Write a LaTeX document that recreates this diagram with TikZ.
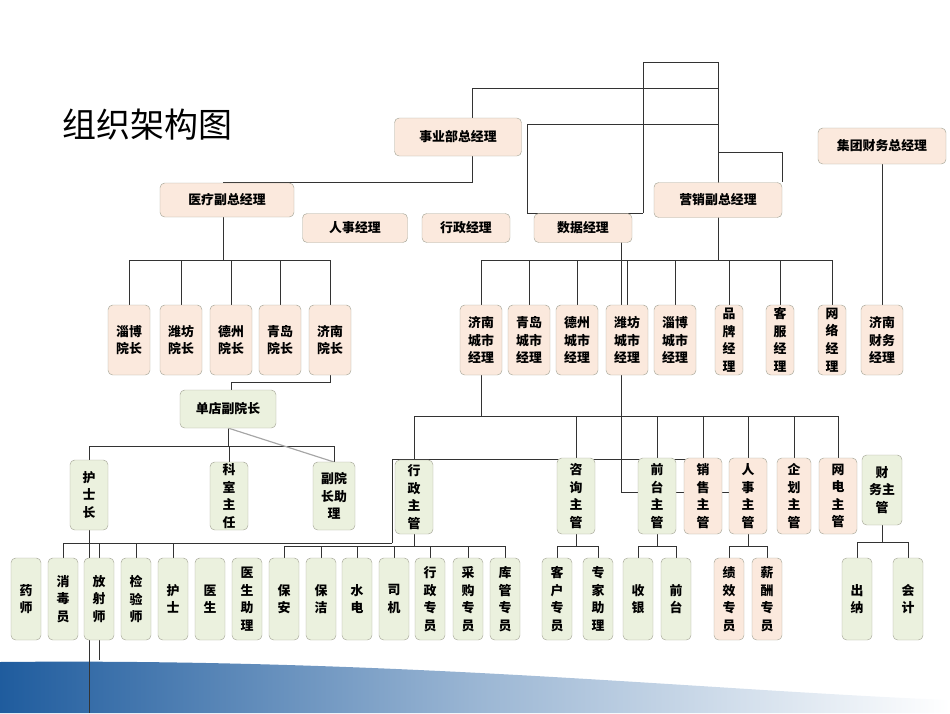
\documentclass[tikz,border=0pt]{standalone}
\usepackage{fontspec}
\setmainfont{Noto Sans CJK SC}
\usetikzlibrary{calc}
\definecolor{pkfill}{HTML}{FBE9DD}
\definecolor{gnfill}{HTML}{EBF1DE}
\definecolor{boxline}{HTML}{A8A89A}
\definecolor{band}{HTML}{1F5C9E}
\tikzset{
  % pink and green boxes of the chart
  pk/.style={rectangle,rounded corners=4,draw=boxline,fill=pkfill,align=center,inner sep=0,
    font=\fontsize{11}{15}\selectfont\bfseries},
  gn/.style={pk,fill=gnfill},
  ln/.style={draw=black!80,line width=0.6pt}
}
\begin{document}
\begin{tikzpicture}[x=0.3mm,y=-0.3mm]
  \useasboundingbox (0,0) rectangle (950,713);
  % bottom band
  \shade[left color=band,right color=white,middle color=band!45] (0,713) -- (0,662) .. controls (400,658) and (700,690) .. (950,700) -- (950,713) -- cycle;
  \node[anchor=west,font=\fontsize{29}{33}\selectfont] (title) at (58,125) {组织架构图};
  % lines
  \draw[ln] (643,213) -- (643,62) -- (718,62) -- (718,260);
  \draw[ln] (472,118) -- (472,88) -- (718,88);
  \draw[ln] (527,213) -- (527,124) -- (718,124);
  \draw[ln] (527,213) -- (643,213);
  \draw[ln] (718,152) -- (782,152) -- (782,182);
  \draw[ln] (472,156) -- (472,182) -- (223,182) -- (223,260);
  \draw[ln] (129,305) -- (129,260) -- (330,260) -- (330,305);
  \foreach \x in {181,231,280} \draw[ln] (\x,260) -- (\x,305);
  \draw[ln] (481,305) -- (481,260) -- (832,260) -- (832,305);
  \foreach \x in {529,577,627,675,729,780} \draw[ln] (\x,260) -- (\x,305);
  \draw[ln] (621,213) -- (621,492) -- (748,492);
  \draw[ln] (882,164) -- (882,305);
  \draw[ln] (330,375) -- (330,382) -- (231,382) -- (231,390);
  \draw[ln] (228,428) -- (228,446);
  \draw[ln] (89,460) -- (89,446) -- (334,446) -- (334,462);
  \draw[ln] (229,446) -- (229,462);
  \draw[black!35,line width=1pt] (228,428) -- (334,462);
  \draw[ln] (481,375) -- (481,416) -- (838,416) -- (838,460);
  \draw[ln] (414,460) -- (414,416) -- (481,416);
  \foreach \x in {576,657,703,748,794} \draw[ln] (\x,416) -- (\x,458);
  \draw[ln] (392,543) -- (392,459) -- (703,459);
  \draw[ln] (63,558) -- (63,543) -- (392,543);
  \foreach \x in {136,173} \draw[ln] (\x,543) -- (\x,558);
  \draw[ln] (89,530) -- (89,713);
  \draw[ln] (99,543) -- (99,660);
  \draw[ln] (414,534) -- (414,546);
  \draw[ln] (284,558) -- (284,546) -- (505,546) -- (505,558);
  \foreach \x in {321,357,394,430,468} \draw[ln] (\x,546) -- (\x,558);
  \draw[ln] (576,534) -- (576,546) (557,558) -- (557,546) -- (598,546) -- (598,558);
  \draw[ln] (657,534) -- (657,546) (638,558) -- (638,546) -- (676,546) -- (676,558);
  \draw[ln] (748,534) -- (748,546) (729,558) -- (729,546) -- (767,546) -- (767,558);
  \draw[ln] (882,525) -- (882,542) (857,558) -- (857,542) -- (908,542) -- (908,558);
  % top managers
  \node[pk,minimum width=127*0.3mm,minimum height=38*0.3mm] (sy) at (458,137) {事业部总经理};
  \node[pk,minimum width=134*0.3mm,minimum height=34*0.3mm] (yl) at (227,200) {医疗副总经理};
  \node[pk,minimum width=105*0.3mm,minimum height=29*0.3mm] (rs) at (355,228) {人事经理};
  \node[pk,minimum width=88*0.3mm,minimum height=29*0.3mm] (xz) at (466,228) {行政经理};
  \node[pk,minimum width=98*0.3mm,minimum height=29*0.3mm] (sj) at (583,228) {数据经理};
  \node[pk,minimum width=128*0.3mm,minimum height=35*0.3mm] (yx) at (718,200) {营销副总经理};
  \node[pk,minimum width=128*0.3mm,minimum height=36*0.3mm] (jt) at (882,146) {集团财务总经理};
  % second row
  \tikzset{r2/.style={pk,minimum width=42*0.3mm,minimum height=70*0.3mm}}
  \node[r2] (zby) at (129,340) {淄博\\院长};
  \node[r2] (wfy) at (181,340) {潍坊\\院长};
  \node[r2] (dzy) at (231,340) {德州\\院长};
  \node[r2] (qdy) at (280,340) {青岛\\院长};
  \node[r2] (jny) at (330,340) {济南\\院长};
  \node[r2] (jnc) at (481,340) {济南\\城市\\经理};
  \node[r2] (qdc) at (529,340) {青岛\\城市\\经理};
  \node[r2] (dzc) at (577,340) {德州\\城市\\经理};
  \node[r2] (wfc) at (627,340) {潍坊\\城市\\经理};
  \node[r2] (zbc) at (675,340) {淄博\\城市\\经理};
  \node[r2,minimum width=28*0.3mm] (pp) at (729,340) {品\\牌\\经\\理};
  \node[r2,minimum width=28*0.3mm] (kf) at (780,340) {客\\服\\经\\理};
  \node[r2,minimum width=28*0.3mm] (wl) at (832,340) {网\\络\\经\\理};
  \node[r2] (jncw) at (882,340) {济南\\财务\\经理};
  \node[gn,minimum width=96*0.3mm,minimum height=38*0.3mm] (dd) at (228,409) {单店副院长};
  % third row
  \tikzset{r3/.style={gn,minimum width=38*0.3mm,minimum height=74*0.3mm}}
  \node[r3,minimum height=70*0.3mm] (hsz) at (89,495) {护\\士\\长};
  \node[r3,minimum height=68*0.3mm] (ks) at (229,496) {科\\室\\主\\任};
  \node[r3,minimum width=42*0.3mm,minimum height=68*0.3mm] (fyz) at (334,496) {副院\\长助\\理};
  \node[r3] (xzz) at (414,497) {行\\政\\主\\管};
  \node[r3,minimum height=76*0.3mm] (zx) at (576,496) {咨\\询\\主\\管};
  \node[r3,minimum height=76*0.3mm] (qt) at (657,496) {前\\台\\主\\管};
  \node[r3,pk,minimum height=76*0.3mm] (xs) at (703,496) {销\\售\\主\\管};
  \node[r3,pk,minimum height=76*0.3mm] (rsz) at (748,496) {人\\事\\主\\管};
  \node[r3,pk,minimum width=34*0.3mm,minimum height=76*0.3mm] (qh) at (794,496) {企\\划\\主\\管};
  \node[r3,pk,minimum height=76*0.3mm] (wd) at (838,496) {网\\电\\主\\管};
  \node[r3,minimum width=40*0.3mm,minimum height=70*0.3mm] (cw) at (882,490) {财\\务主\\管};
  % bottom row
  \tikzset{r4/.style={gn,minimum width=30*0.3mm,minimum height=82*0.3mm}}
  \node[r4] (b1) at (26,599) {药\\师};
  \node[r4] (b2) at (63,599) {消\\毒\\员};
  \node[r4] (b3) at (99,599) {放\\射\\师};
  \node[r4] (b4) at (136,599) {检\\验\\师};
  \node[r4] (b5) at (173,599) {护\\士};
  \node[r4] (b6) at (210,599) {医\\生};
  \node[r4] (b7) at (247,599) {医\\生\\助\\理};
  \node[r4] (b8) at (284,599) {保\\安};
  \node[r4] (b9) at (321,599) {保\\洁};
  \node[r4] (b10) at (357,599) {水\\电};
  \node[r4] (b11) at (394,599) {司\\机};
  \node[r4] (b12) at (430,599) {行\\政\\专\\员};
  \node[r4] (b13) at (468,599) {采\\购\\专\\员};
  \node[r4] (b14) at (505,599) {库\\管\\专\\员};
  \node[r4] (b15) at (557,599) {客\\户\\专\\员};
  \node[r4] (b16) at (598,599) {专\\家\\助\\理};
  \node[r4] (b17) at (638,599) {收\\银};
  \node[r4] (b18) at (676,599) {前\\台};
  \node[r4,pk] (b19) at (729,599) {绩\\效\\专\\员};
  \node[r4,pk] (b20) at (767,599) {薪\\酬\\专\\员};
  \node[r4] (b21) at (857,599) {出\\纳};
  \node[r4] (b22) at (908,599) {会\\计};
\end{tikzpicture}
\end{document}
